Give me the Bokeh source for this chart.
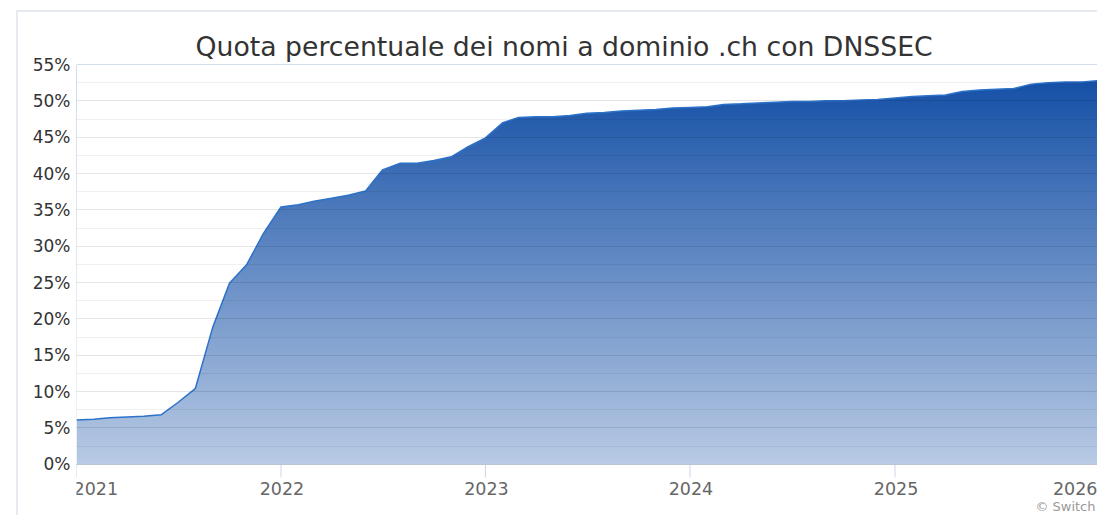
import numpy as np
import pandas as pd
from bokeh.plotting import figure
from bokeh.models import FixedTicker, PrintfTickFormatter, Label, Range1d, Title, Span
from bokeh.embed import file_html
from bokeh.resources import INLINE

# ---- data ----
title_text = "Quota percentuale dei nomi a dominio .ch con DNSSEC"
months = pd.date_range("2021-01-01", periods=61, freq="MS")
share = [
    6.1, 6.2, 6.4, 6.5, 6.6, 6.8, 8.5, 10.4, 18.8, 24.9, 27.5, 31.8,
    35.4, 35.7, 36.2, 36.6, 37.0, 37.6, 40.5, 41.4, 41.4, 41.8, 42.3, 43.7,
    44.9, 47.0, 47.7, 47.8, 47.8, 48.0, 48.3, 48.4, 48.6, 48.7, 48.8, 49.0,
    49.1, 49.2, 49.5, 49.6, 49.7, 49.8, 49.9, 49.9, 50.0, 50.0, 50.1, 50.2,
    50.4, 50.6, 50.7, 50.8, 51.3, 51.5, 51.6, 51.7, 52.3, 52.5, 52.6, 52.6,
    52.8,
]
year_ticks = ["2021", "2022", "2023", "2024", "2025", "2026"]
y_ticks = [0, 5, 10, 15, 20, 25, 30, 35, 40, 45, 50, 55]
credit = "\u00a9 Switch"

FONT = "DejaVu Sans"
BASE = (21, 80, 166)

x0 = months[0]
x1 = months[-1]
ms = lambda t: pd.Timestamp(t).value / 1e6
year_ms = [ms(f"{y}-01-01") for y in year_ticks]

# host at page (16, 10) with a 2px top/left border (border-box);
# canvas origin at page (18, 12); frame: page x 76..1097, y 64 (55%) .. 515 ; 0% at page 462
Y_BOTTOM = -7.32
p = figure(width=1081, height=505, x_axis_type="datetime",
           output_backend="svg", toolbar_location=None,
           x_range=Range1d(x0, x1), y_range=Range1d(Y_BOTTOM, 55),
           min_border_left=58, min_border_right=0, min_border_top=52,
           min_border_bottom=0)
p.margin = (10, 0, 0, 16)
p.styles = {"border-top": "2px solid #e6ebf2", "border-left": "2px solid #e6ebf2"}
p.outline_line_color = None
p.background_fill_color = "white"
p.border_fill_color = "white"
p.xaxis.visible = False

# title
t = Title(text=title_text, text_font=FONT, text_font_size="26.7px",
          text_color="#333333", text_font_style="normal", align="left",
          offset=119, standoff=6)
p.add_layout(t, "above")

# gradient fill (image under a white mask above the curve)
top = 55.0
rows = 550
yy = (np.arange(rows) + 0.5) / rows * top
alpha = 0.3 + 0.7 * np.clip(yy / 52.8, 0, 1)
img = np.empty((rows, 1), dtype=np.uint32)
view = img.view(dtype=np.uint8).reshape((rows, 1, 4))
for c in range(3):
    view[:, 0, c] = np.round(255 - alpha * (255 - BASE[c])).astype(np.uint8)
view[:, 0, 3] = 255
p.image_rgba(image=[img], x=ms(x0), y=0, dw=ms(x1) - ms(x0), dh=top)
p.varea(x=months, y1=share, y2=[top] * len(share), fill_color="white")
p.line(x=months, y=share, line_color="#2c72c9", line_width=1.5)

# y axis
p.yaxis.ticker = FixedTicker(ticks=y_ticks, minor_ticks=[v + 2.5 for v in y_ticks[:-1]])
p.yaxis.formatter = PrintfTickFormatter(format="%d%%")
p.yaxis.axis_line_color = None
p.yaxis.major_tick_line_color = None
p.yaxis.minor_tick_line_color = None
p.yaxis.major_tick_out = 0
p.yaxis.major_tick_in = 0
p.yaxis.minor_tick_out = 0
p.yaxis.major_label_text_font = FONT
p.yaxis.major_label_text_font_size = "17px"
p.yaxis.major_label_text_color = "#333333"
p.yaxis.major_label_standoff = 6

p.ygrid.ticker = FixedTicker(ticks=y_ticks, minor_ticks=[v + 2.5 for v in y_ticks[:-1]])
p.ygrid.grid_line_color = "black"
p.ygrid.grid_line_alpha = 0.1
p.ygrid.minor_grid_line_color = "black"
p.ygrid.minor_grid_line_alpha = 0.06
p.ygrid.level = "overlay"
p.xgrid.grid_line_color = None

# x axis drawn inside the extended frame
p.add_layout(Span(location=0, dimension="width", line_color="#ccd6eb", line_width=1))
p.segment(x0=year_ms, y0=[0] * len(year_ms), x1=year_ms, y1=[-1.8] * len(year_ms),
          line_color="#ccd6eb", line_width=1)
for i, (lab, v) in enumerate(zip(year_ticks, year_ms)):
    if i == 0:
        align, off = "left", -3
    elif i == len(year_ticks) - 1:
        align, off = "right", -2
    else:
        align, off = "center", 1
    p.add_layout(Label(x=v, y=-3.3, text=lab, text_align=align, x_offset=off,
                       text_baseline="alphabetic", text_font=FONT,
                       text_font_size="17.5px", text_color="#666666"))

p.add_layout(Label(x=year_ms[-1], y=-5.85, text=credit, text_align="right",
                   x_offset=-4, text_baseline="alphabetic", text_font=FONT,
                   text_font_size="13px", text_color="#999999"))

open("out.html", "w").write(file_html(p, INLINE))
